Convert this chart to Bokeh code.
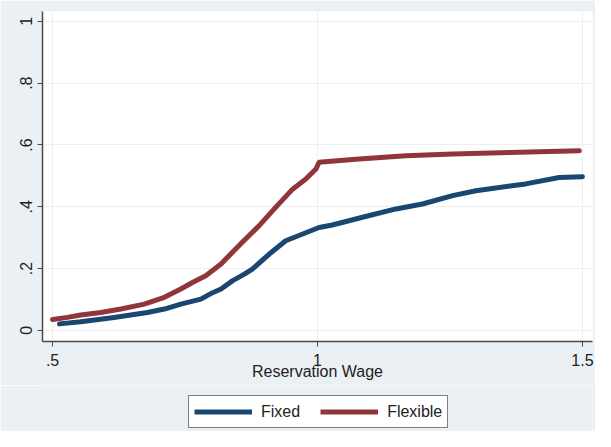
from bokeh.plotting import figure
from bokeh.models import FixedTicker, Legend, LegendItem, Range1d
from bokeh.layouts import column
from bokeh.embed import file_html
from bokeh.resources import INLINE

# Data
fixed_x = [0.513, 0.553, 0.616, 0.679, 0.711, 0.742, 0.780, 0.802, 0.818, 0.840,
           0.862, 0.877, 0.909, 0.940, 0.972, 1.003, 1.028, 1.085, 1.148, 1.198,
           1.255, 1.299, 1.393, 1.456, 1.500]
fixed_y = [0.021, 0.028, 0.042, 0.058, 0.069, 0.085, 0.101, 0.122, 0.134, 0.161,
           0.182, 0.198, 0.247, 0.290, 0.312, 0.333, 0.341, 0.366, 0.393, 0.409,
           0.436, 0.452, 0.474, 0.495, 0.497]

flex_x = [0.500, 0.528, 0.553, 0.591, 0.629, 0.673, 0.711, 0.742, 0.764, 0.789,
          0.818, 0.827, 0.858, 0.890, 0.921, 0.953, 0.978, 0.997, 1.003, 1.072,
          1.167, 1.255, 1.362, 1.494]
flex_y = [0.035, 0.042, 0.050, 0.058, 0.069, 0.085, 0.107, 0.134, 0.155, 0.177,
          0.215, 0.231, 0.285, 0.339, 0.398, 0.457, 0.490, 0.522, 0.544, 0.554,
          0.565, 0.571, 0.576, 0.581]

series_names = ["Fixed", "Flexible"]
series_colors = ["#1A476F", "#90353B"]

x_ticks = [0.5, 1.0, 1.5]
x_tick_labels = [".5", "1", "1.5"]
y_ticks = [0, 0.2, 0.4, 0.6, 0.8, 1.0]
y_tick_labels = ["0", ".2", ".4", ".6", ".8", "1"]

BG = "#EBF0F5"
GRID = "#EBEFF4"
AX = "#4a4a4a"
FONT = "Liberation Sans"

p = figure(frame_width=550, frame_height=330,
           x_range=Range1d(0.481, 1.519), y_range=Range1d(-0.036, 1.032),
           output_backend="svg", toolbar_location=None,
           min_border_left=42, min_border_top=11, min_border_right=3, min_border_bottom=44)

p.background_fill_color = "white"
p.border_fill_color = BG
p.outline_line_color = None

p.line(fixed_x, fixed_y, line_color=series_colors[0], line_width=5, line_join="round", line_cap="round")
p.line(flex_x, flex_y, line_color=series_colors[1], line_width=5, line_join="round", line_cap="round")

p.xaxis.ticker = FixedTicker(ticks=x_ticks)
p.xaxis.major_label_overrides = {t: l for t, l in zip(x_ticks, x_tick_labels)}
p.yaxis.ticker = FixedTicker(ticks=y_ticks)
p.yaxis.major_label_overrides = {t: l for t, l in zip(y_ticks, y_tick_labels)}
p.yaxis.major_label_orientation = "vertical"

for ax in (p.xaxis, p.yaxis):
    ax.axis_line_color = AX
    ax.axis_line_width = 1.5
    ax.major_tick_line_color = AX
    ax.major_tick_out = 5
    ax.major_tick_in = 0
    ax.minor_tick_line_color = None
    ax.major_label_text_font = FONT
    ax.major_label_text_font_size = "16px"
    ax.major_label_text_color = "#222222"
    ax.major_label_standoff = 5

p.xaxis.major_label_standoff = 7
p.xaxis.axis_label = "Reservation Wage"
p.xaxis.axis_label_text_font = FONT
p.xaxis.axis_label_text_font_size = "16px"
p.xaxis.axis_label_text_font_style = "normal"
p.xaxis.axis_label_text_color = "#222222"
p.xaxis.axis_label_standoff = -6

p.grid.grid_line_color = GRID
p.grid.grid_line_width = 1

# Legend strip below the chart (its lines sit outside its visible range; only the key shows)
lg = figure(width=595, height=46, x_axis_type=None, y_axis_type=None,
            x_range=Range1d(10, 11), y_range=Range1d(10, 11),
            output_backend="svg", toolbar_location=None,
            min_border_left=0, min_border_right=0, min_border_top=0, min_border_bottom=0)
lg.background_fill_color = BG
lg.border_fill_color = BG
lg.outline_line_color = None
lg.grid.visible = False
items = []
for name, col, xs, ys in zip(series_names, series_colors, [fixed_x, flex_x], [fixed_y, flex_y]):
    r = lg.line(x=xs, y=ys, line_color=col, line_width=5)
    items.append(LegendItem(label=name, renderers=[r]))

legend = Legend(items=items, orientation="horizontal", location=(146, 3))
legend.border_line_color = "black"
legend.border_line_width = 1
legend.background_fill_color = "white"
legend.background_fill_alpha = 1
legend.label_text_font = FONT
legend.label_text_font_size = "16px"
legend.label_text_color = "#222222"
legend.glyph_width = 58
legend.glyph_height = 21
legend.label_height = 21
legend.label_standoff = 9
legend.spacing = 20
legend.padding = 5
legend.margin = 0
lg.add_layout(legend, "center")

layout = column(p, lg, spacing=0)
open("out.html", "w").write(file_html(layout, INLINE))
